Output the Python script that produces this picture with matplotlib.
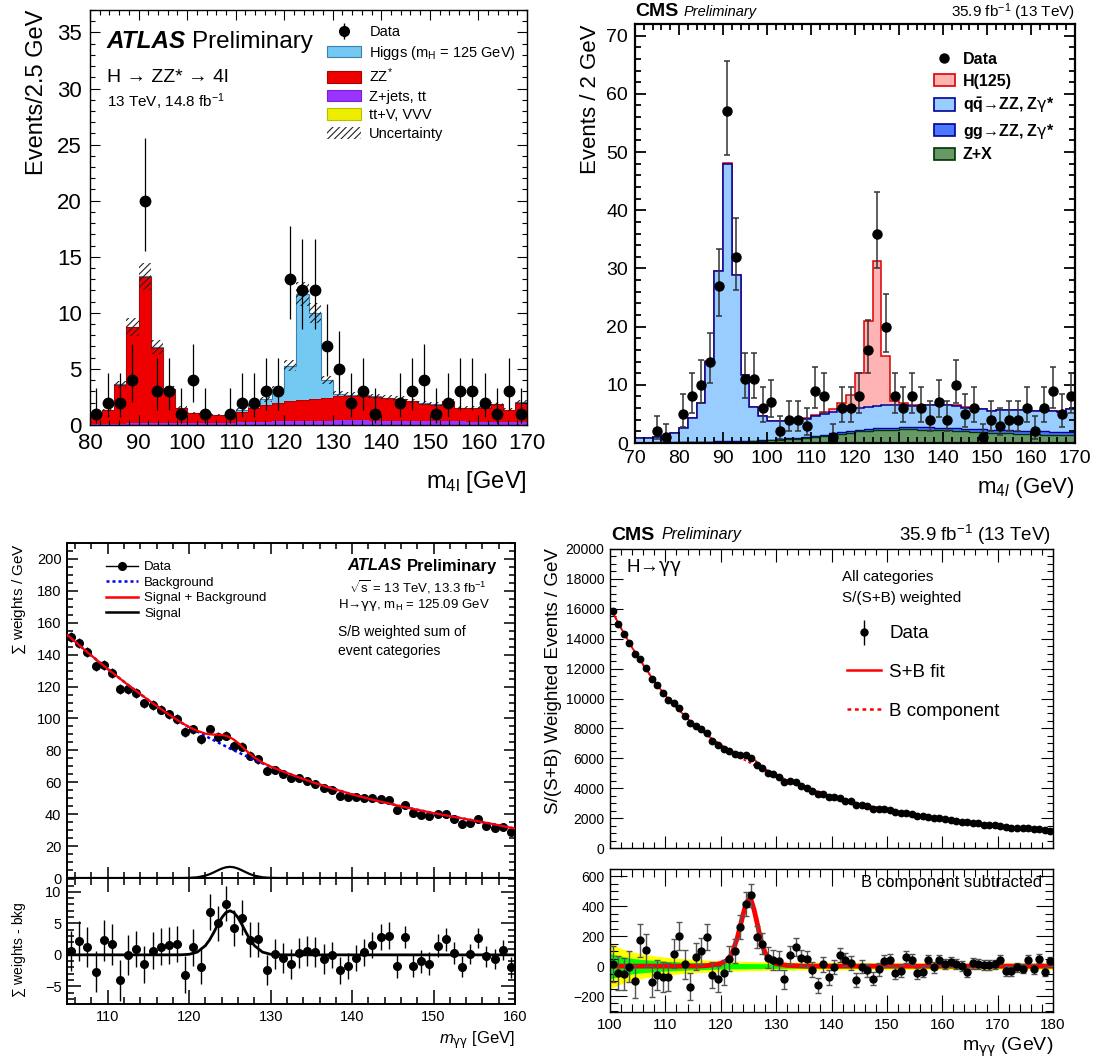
import numpy as np
import matplotlib
matplotlib.use('Agg')
import matplotlib.pyplot as plt
from matplotlib.patches import Patch
from matplotlib.lines import Line2D
from matplotlib.ticker import MultipleLocator, NullFormatter
from matplotlib.legend_handler import HandlerTuple

# ---------------- ATLAS H->ZZ*->4l (top left), 2.5 GeV bins from 80 ----------------
atlas4l_lo, atlas4l_bin = 80.0, 2.5
atlas4l_data = [1, 2, 2, 4, 20, 3, 3, 1, 4, 1, 0, 1,
                2, 2, 3, 3, 13, 12, 12, 7, 5, 2, 3, 1,
                0, 2, 3, 4, 1, 2, 3, 3, 2, 1, 3, 1]
atlas4l_ttv_top = [0.02]*12 + [0.03]*6 + [0.04]*14 + [0.03]*4
atlas4l_zjets_top = [0.12, 0.12, 0.13, 0.14, 0.15, 0.15, 0.15, 0.16, 0.17, 0.18, 0.19, 0.21,
                     0.24, 0.27, 0.30, 0.33, 0.35, 0.37, 0.39, 0.40, 0.41, 0.41, 0.41, 0.40,
                     0.39, 0.38, 0.37, 0.35, 0.34, 0.33, 0.32, 0.31, 0.30, 0.29, 0.28, 0.27]
atlas4l_zz_top = [0.9, 1.3, 3.6, 8.7, 13.2, 6.9, 3.2, 1.5, 1.05, 1.0, 0.85, 0.85,
                  1.2, 1.5, 1.8, 2.0, 2.15, 2.25, 2.35, 2.45, 2.6, 2.6, 2.6, 2.5,
                  2.4, 2.3, 2.1, 1.9, 1.8, 2.1, 1.5, 1.5, 1.55, 1.85, 1.3, 2.0]
atlas4l_total_top = [0.92, 1.33, 3.63, 8.75, 13.25, 6.95, 3.23, 1.53, 1.08, 1.03, 0.88, 0.9,
                     1.35, 1.75, 2.3, 3.2, 5.3, 11.7, 10.0, 4.0, 2.8, 2.7, 2.65, 2.55,
                     2.45, 2.35, 2.15, 1.95, 1.85, 2.15, 1.55, 1.55, 1.6, 1.9, 1.35, 2.05]
atlas4l_rel_unc = 0.09

# ---------------- CMS 4l (top right), 2 GeV bins from 70 ----------------
cms4l_lo, cms4l_bin = 70.0, 2.0
cms4l_data = [0, 0, 2, 1, 0, 5, 8, 10, 14, 27,
              57, 32, 11, 11, 6, 7, 2, 4, 4, 3,
              9, 8, 1, 6, 6, 8, 16, 36, 20, 8,
              6, 8, 6, 4, 7, 4, 10, 5, 6, 1,
              4, 3, 4, 4, 6, 2, 6, 9, 5, 8]
cms4l_zx_top = [0.05, 0.05, 0.06, 0.07, 0.08, 0.10, 0.12, 0.14, 0.16, 0.18,
                0.20, 0.22, 0.25, 0.30, 0.35, 0.45, 0.55, 0.65, 0.75, 0.85,
                1.0, 1.2, 1.4, 1.6, 1.8, 2.0, 2.1, 2.2, 2.3, 2.3,
                2.35, 2.35, 2.3, 2.3, 2.25, 2.2, 2.1, 2.0, 1.95, 1.9,
                1.8, 1.75, 1.7, 1.6, 1.55, 1.5, 1.45, 1.4, 1.35, 1.3]
cms4l_gg_top = [0.08, 0.08, 0.09, 0.10, 0.12, 0.15, 0.18, 0.21, 0.25, 0.30,
                0.34, 0.34, 0.36, 0.42, 0.48, 0.60, 0.70, 0.82, 0.93, 1.05,
                1.22, 1.43, 1.65, 1.87, 2.08, 2.30, 2.42, 2.53, 2.65, 2.66,
                2.72, 2.73, 2.70, 2.70, 2.66, 2.62, 2.53, 2.44, 2.40, 2.36,
                2.27, 2.23, 2.19, 2.10, 2.06, 2.02, 1.98, 1.94, 1.90, 1.86]
cms4l_qq_top = [0.8, 0.8, 1.0, 1.2, 1.7, 2.6, 4.3, 6.8, 14.0, 29.5,
                48.0, 28.8, 11.6, 6.2, 4.6, 3.8, 3.8, 3.8, 4.0, 4.2,
                4.6, 5.0, 5.4, 5.8, 5.9, 6.1, 6.2, 6.4, 6.5, 6.6,
                6.5, 6.4, 6.4, 6.5, 6.5, 6.5, 6.4, 6.1, 6.0, 5.8,
                5.5, 5.7, 5.6, 5.6, 5.7, 5.5, 5.6, 5.5, 5.4, 5.8]
cms4l_total_top = [0.82, 0.82, 1.02, 1.22, 1.72, 2.62, 4.33, 6.85, 14.05, 29.6,
                   48.1, 28.9, 11.65, 6.25, 4.65, 3.85, 3.85, 3.85, 4.05, 4.3,
                   4.8, 5.3, 5.8, 6.8, 8.3, 12.0, 21.0, 31.2, 14.9, 7.2,
                   6.8, 6.55, 6.5, 6.6, 6.6, 6.6, 6.45, 6.15, 6.05, 5.85,
                   5.55, 5.75, 5.65, 5.65, 5.75, 5.55, 5.65, 5.55, 5.45, 5.85]

# ---------------- ATLAS H->gamma gamma (bottom left), 1 GeV bins from 105 ----------------
atlasgg_lo = 105.0
atlasgg_data = [151, 147.5, 141.5, 132.7, 133.5, 128.5, 118.5, 118.5, 116, 109.5,
                108.5, 105.5, 102.6, 99.7, 91.5, 93.2, 87, 93.2, 88.6, 89.2,
                82.8, 82.3, 76.5, 74.4, 67.3, 67.7, 65.2, 62.5, 62.5, 61,
                58.7, 56.2, 55.4, 51.2, 50.6, 50.6, 49.9, 49.9, 49.5, 48.7,
                42.6, 46, 40.5, 39.7, 38.7, 40.1, 40.1, 37.2, 34.1, 34.7,
                36.8, 32.8, 31.6, 32.2, 28.8]
atlasgg_resid = [0.65, 2.15, 1.2, -2.65, 2.3, 1.65, -4.05, -0.05, 0.9, -1.5,
                 0.65, 1.3, 1.5, 1.75, -3.15, 1.2, -1.85, 6.8, 5.0, 8.1,
                 4.25, 5.9, 2.4, 2.45, -2.45, 0.15, -0.45, -1.45, 0.3, 0.6,
                 0.4, -0.65, -0.05, -2.45, -1.8, -0.5, 0.4, 1.55, 2.85, 3.05,
                 -1.8, 2.85, -1.7, -1.0, -1.4, 1.45, 2.45, 0.3, -1.85, 0.15,
                 2.65, -0.25, -0.7, 0.75, -2.0]
atlasgg_err = [3.2]*8 + [2.9]*8 + [2.8]*8 + [2.4]*8 + [2.1]*8 + [1.8]*8 + [1.6]*7
atlasgg_fit_x = [105, 107.5, 110, 112.5, 115, 117.5, 119, 120, 121, 122, 122.5, 123, 123.5,
                 124, 124.5, 125, 125.5, 126, 126.5, 127, 127.5, 128, 129, 130, 131, 132.5,
                 135, 137.5, 140, 142.5, 145, 147.5, 150, 152.5, 155, 157.5, 160]
atlasgg_bkg = [152.5, 141.5, 131, 121, 111.5, 102.5, 97.5, 94.5, 91.8, 89, 87.7, 86.4, 85.1,
               83.8, 82.5, 81.2, 80, 78.8, 77.6, 76.4, 75.2, 74.1, 71.9, 69.8, 67.8, 64.9,
               60.3, 56.2, 52.4, 49.1, 46.1, 43.3, 40.7, 38.3, 36, 33.6, 31]
atlasgg_sig = [0, 0, 0, 0, 0, 0, 0.01, 0.09, 0.44, 1.48, 2.37, 3.5, 4.75,
               5.9, 6.7, 7.0, 6.7, 5.9, 4.75, 3.5, 2.37, 1.48, 0.44, 0.09, 0.01, 0,
               0, 0, 0, 0, 0, 0, 0, 0, 0, 0, 0]

# ---------------- CMS H->gamma gamma (bottom right), 1 GeV bins from 100 ----------------
cmsgg_lo = 100.0
cmsgg_data = [15860, 14990, 14310, 13710, 12980, 12670, 12030, 11300, 10870, 10390,
              9920, 9680, 9390, 8840, 8370, 8190, 7930, 7710, 7180, 6870,
              6640, 6470, 6290, 6250, 6200, 6020, 5540, 5340, 5050, 4920,
              4720, 4430, 4470, 4390, 4140, 4030, 3830, 3590, 3630, 3430,
              3390, 3370, 3170, 3120, 2900, 2880, 2790, 2640, 2610, 2590,
              2550, 2390, 2350, 2370, 2300, 2170, 2130, 2100, 2020, 1990,
              1930, 1880, 1820, 1770, 1710, 1680, 1640, 1570, 1550, 1510,
              1460, 1400, 1370, 1350, 1330, 1310, 1280, 1240, 1200, 1150]
cmsgg_resid = [13, -44, -53, -4, -100, 173, 107, -104, -60, -71,
               -71, 84, 200, 11, -138, 62, 100, 196, -60, -87,
               -44, 51, 100, 262, 416, 473, 196, 151, 56, 40,
               36, -89, 76, 129, 53, 47, -24, -127, 13, -76,
               -4, 73, 44, 22, -93, -4, -27, -84, -22, 33,
               40, -49, -33, 62, 44, -49, -38, 40, -9, 40,
               13, 29, 13, 0, -38, 18, 13, 7, 7, 11,
               40, -33, -33, -9, -16, 44, -22, 49, -38, 33]
cmsgg_err = [120, 115, 110, 105, 110, 110, 105, 105, 100, 100,
             95, 95, 95, 95, 90, 90, 90, 85, 85, 85,
             85, 85, 82, 80, 80, 78, 75, 72, 70, 68,
             65, 62, 60, 58, 55, 55, 52, 50, 50, 48,
             48, 46, 46, 45, 45, 44, 43, 42, 42, 41,
             40, 40, 39, 39, 38, 38, 37, 37, 36, 36,
             35, 35, 35, 34, 34, 34, 33, 33, 33, 32,
             32, 32, 31, 31, 31, 30, 30, 30, 30, 30]
cmsgg_fit_x = [100, 102, 104, 106, 108, 110, 112, 114, 116, 118, 119, 120, 121, 122, 123, 124,
               124.5, 125, 125.5, 126, 126.5, 127, 127.5, 128, 129, 130, 132, 135, 140, 145,
               150, 155, 160, 165, 170, 175, 180]
cmsgg_bkg = [16100, 14700, 13400, 12250, 11150, 10200, 9400, 8650, 8000, 7420, 7150, 6890,
             6640, 6400, 6170, 5950, 5850, 5750, 5650, 5550, 5460, 5370, 5280, 5190, 5020,
             4860, 4520, 4090, 3460, 2950, 2570, 2230, 1950, 1710, 1490, 1320, 1160]
cmsgg_sig = [0, 0, 0, 0, 0, 0, 0, 0, 0, 5, 10, 18, 35, 80, 190, 340, 410, 445, 440, 380,
             300, 215, 140, 90, 35, 15, 5, 0, 0, 0, 0, 0, 0, 0, 0, 0, 0]
cmsgg_band_x = [100, 101, 102, 104, 106, 108, 110, 115, 120, 125, 130, 140, 150, 160, 170, 180]
cmsgg_band1 = [85, 75, 65, 52, 44, 38, 33, 25, 20, 17, 15, 13, 12, 12, 12, 12]
cmsgg_band2 = [155, 135, 118, 95, 80, 68, 60, 45, 36, 31, 28, 25, 23, 22, 22, 22]

# ---------------- style ----------------
plt.rcParams['font.family'] = ['Liberation Sans', 'DejaVu Sans']
plt.rcParams['mathtext.fontset'] = 'custom'
plt.rcParams['mathtext.rm'] = 'Liberation Sans'
plt.rcParams['mathtext.it'] = 'Liberation Sans:italic'
plt.rcParams['mathtext.bf'] = 'Liberation Sans:bold'
plt.rcParams['mathtext.sf'] = 'DejaVu Sans'
plt.rcParams['mathtext.default'] = 'regular'
plt.rcParams['hatch.linewidth'] = 0.8

W, H = 1096, 1059
fig = plt.figure(figsize=(W / 100, H / 100), dpi=100)
G = r'$\mathsf{\gamma}$'


def rect(l, t, r, b):
    return [l / W, 1 - b / H, (r - l) / W, (b - t) / H]


def T(x, y, s, **kw):
    return fig.text(x / W, 1 - y / H, s, **kw)


def style(ax, xmaj, xmin, ymaj, ymin, lab, L=7, l=3.5, lw=1.0, pad=5):
    ax.xaxis.set_major_locator(MultipleLocator(xmaj))
    ax.xaxis.set_minor_locator(MultipleLocator(xmin))
    ax.yaxis.set_major_locator(MultipleLocator(ymaj))
    ax.yaxis.set_minor_locator(MultipleLocator(ymin))
    ax.tick_params(which='both', direction='in', top=True, right=True, width=lw * 0.8,
                   labelsize=lab, pad=pad)
    ax.tick_params(which='major', length=L)
    ax.tick_params(which='minor', length=l)
    for s in ax.spines.values():
        s.set_linewidth(lw)


def poisson(n):
    n = np.asarray(n, float)
    lo = np.sqrt(np.maximum(n - 0.25, 0))
    hi = 1 + np.sqrt(n + 0.75)
    return lo, hi


renderer = fig.canvas.get_renderer()


def pair(x, y, s1, s2, kw1, kw2, gap=6):
    t1 = T(x, y, s1, **kw1)
    bb = t1.get_window_extent(renderer)
    T(x + bb.width + gap, y, s2, **kw2)

# =============== top-left: ATLAS 4l ===============
ax1 = fig.add_axes(rect(90, 10, 527, 425))
n1 = len(atlas4l_data)
e1 = atlas4l_lo + atlas4l_bin * np.arange(n1 + 1)
c1 = 0.5 * (e1[:-1] + e1[1:])
ax1.stairs(atlas4l_total_top, e1, fill=True, color='#74C9F3', lw=0)
ax1.stairs(atlas4l_total_top, e1, color='#3C7FB0', lw=0.8)
ax1.stairs(atlas4l_zz_top, e1, fill=True, color='#EE0000', lw=0)
ax1.stairs(atlas4l_zz_top, e1, color='#AA0000', lw=0.6)
ax1.stairs(atlas4l_zjets_top, e1, fill=True, color='#9933FF', lw=0)
ax1.stairs(atlas4l_ttv_top, e1, fill=True, color='#EEEE00', lw=0)
tot = np.array(atlas4l_total_top)
unc = atlas4l_rel_unc * tot
ax1.bar(c1, 2 * unc, bottom=tot - unc, width=atlas4l_bin, facecolor='none',
        edgecolor='#222222', hatch='/////', linewidth=0)
d1 = np.array(atlas4l_data, float)
m1 = d1 > 0
lo1, hi1 = poisson(d1)
ax1.errorbar(c1[m1], d1[m1], yerr=[lo1[m1], hi1[m1]], fmt='o', color='k', ms=7.5,
             elinewidth=0.9, capsize=0)
ax1.set_xlim(80, 170)
ax1.set_ylim(0, 37)
style(ax1, 10, 2, 5, 1, 16, L=7, l=3.5, lw=1.0, pad=6)
T(37, 10, 'Events/2.5 GeV', rotation=90, ha='center', va='top', fontsize=17)
T(527, 482, r'm$_{4l}$ [GeV]', ha='right', va='center', fontsize=17)
pair(107, 42, 'ATLAS', 'Preliminary', dict(fontsize=17.5, fontweight='bold', style='italic', va='center'),
     dict(fontsize=17.5, va='center'), gap=6)
T(107, 77, 'H → ZZ* → 4l', fontsize=14, va='center')
T(107, 102, r'13 TeV, 14.8 fb$^{-1}$', fontsize=11, va='center')
h_data1 = (Line2D([], [], ls='none', marker='|', ms=12, mew=1, color='k'),
           Line2D([], [], ls='none', marker='o', ms=7, color='k'))
hs1 = [h_data1,
       Patch(facecolor='#74C9F3', edgecolor='#3C7FB0', lw=0.8),
       Patch(facecolor='#EE0000', edgecolor='#AA0000', lw=0.8),
       Patch(facecolor='#9933FF', edgecolor='#7722CC', lw=0.8),
       Patch(facecolor='#EEEE00', edgecolor='#BBBB00', lw=0.8),
       Patch(facecolor='white', edgecolor='#222222', hatch='/////', lw=0)]
ls1 = ['Data', r'Higgs (m$_H$ = 125 GeV)', r'ZZ$^{*}$', 'Z+jets, tt', 'tt+V, VVV', 'Uncertainty']
ax1.legend(hs1, ls1, loc='upper left', bbox_to_anchor=(327 / W, 1 - 25 / H),
           bbox_transform=fig.transFigure, frameon=False, fontsize=10.5,
           handlelength=2.3, handleheight=0.85, labelspacing=0.32, handletextpad=0.6,
           borderpad=0, borderaxespad=0, handler_map={tuple: HandlerTuple(ndivide=1)})

# =============== top-right: CMS 4l ===============
ax2 = fig.add_axes(rect(635, 24, 1075, 443))
n2 = len(cms4l_data)
e2 = cms4l_lo + cms4l_bin * np.arange(n2 + 1)
c2 = 0.5 * (e2[:-1] + e2[1:])
ax2.stairs(cms4l_total_top, e2, fill=True, color='#FFB3B3', lw=0)
ax2.stairs(cms4l_total_top, e2, color='#DD0000', lw=1.1)
ax2.stairs(cms4l_qq_top, e2, fill=True, color='#99CCFF', lw=0)
ax2.stairs(cms4l_qq_top, e2, color='#000099', lw=1.1)
ax2.stairs(cms4l_gg_top, e2, fill=True, color='#4B78FF', lw=0)
ax2.stairs(cms4l_gg_top, e2, color='#000099', lw=1.0)
ax2.stairs(cms4l_zx_top, e2, fill=True, color='#669966', lw=0)
ax2.stairs(cms4l_zx_top, e2, color='#003300', lw=1.0)
d2 = np.array(cms4l_data, float)
m2 = d2 > 0
lo2, hi2 = poisson(d2)
ax2.errorbar(c2[m2], d2[m2], yerr=[lo2[m2], hi2[m2]], fmt='o', color='k', ms=6.5,
             ecolor='#333333', elinewidth=1.1, capsize=2.5, capthick=1.1)
ax2.set_xlim(70, 170)
ax2.set_ylim(0, 72)
style(ax2, 10, 2, 10, 2, 14, L=8, l=4, lw=1.6, pad=5)
T(591, 24, 'Events / 2 GeV', rotation=90, ha='center', va='top', fontsize=16)
T(1075, 487, r'm$_{4\mathit{l}}$ (GeV)', ha='right', va='center', fontsize=16)
pair(635, 12, 'CMS', 'Preliminary', dict(fontsize=14, fontweight='bold', va='center'),
     dict(fontsize=10.5, style='italic', va='center'), gap=5)
T(1075, 12, r'35.9 fb$^{-1}$ (13 TeV)', ha='right', va='center', fontsize=11)
hs2 = [Line2D([], [], ls='none', marker='o', ms=6.5, color='k'),
       Patch(facecolor='#FFB3B3', edgecolor='#DD0000', lw=1.2),
       Patch(facecolor='#99CCFF', edgecolor='#000099', lw=1.2),
       Patch(facecolor='#4B78FF', edgecolor='#000099', lw=1.2),
       Patch(facecolor='#669966', edgecolor='#003300', lw=1.2)]
ls2 = ['Data', 'H(125)', r'$\mathbf{q\bar{q}}$→ZZ, Z' + G + '*', 'gg→ZZ, Z' + G + '*', 'Z+X']
ax2.legend(hs2, ls2, loc='upper left', bbox_to_anchor=(934 / W, 1 - 52 / H),
           bbox_transform=fig.transFigure, frameon=False,
           prop={'weight': 'bold', 'size': 11.5},
           handlelength=1.3, handleheight=0.8, labelspacing=0.42, handletextpad=0.5,
           borderpad=0, borderaxespad=0)

# =============== bottom-left: ATLAS gamma gamma ===============
ax3 = fig.add_axes(rect(67, 543, 515, 878))
ax3r = fig.add_axes(rect(67, 878, 515, 1004))
x3 = atlasgg_lo + 0.5 + np.arange(len(atlasgg_data))
fx3 = np.array(atlasgg_fit_x)
bk3 = np.array(atlasgg_bkg)
sg3 = np.array(atlasgg_sig)
ax3.errorbar(x3, atlasgg_data, yerr=atlasgg_err, fmt='o', color='k', ms=5.5,
             elinewidth=1, capsize=0, zorder=2)
ax3.plot(fx3, bk3, color='#0000EE', ls=(0, (1.2, 1.2)), lw=1.8, zorder=3)
ax3.plot(fx3, bk3 + sg3, color='#FF0000', lw=1.6, zorder=4)
ax3.plot(fx3, sg3, color='k', lw=1.6, zorder=4)
ax3.set_xlim(105, 160)
ax3.set_ylim(0, 210)
style(ax3, 10, 2, 20, 5, 10.5, L=8, l=4, lw=1.4, pad=4)
ax3.xaxis.set_major_formatter(NullFormatter())
ax3r.errorbar(x3, atlasgg_resid, yerr=atlasgg_err, fmt='o', color='k', ms=5.5,
              elinewidth=1, capsize=0, zorder=2)
ax3r.plot(fx3, sg3, color='k', lw=2, zorder=3)
ax3r.set_xlim(105, 160)
ax3r.set_ylim(-7.8, 12.2)
style(ax3r, 10, 2, 5, 1, 10.5, L=10, l=5, lw=1.4, pad=4)
T(19, 543, r'$\sum$ weights / GeV', rotation=90, ha='center', va='top', fontsize=11)
T(19, 950, r'$\sum$ weights - bkg', rotation=90, ha='center', va='center', fontsize=10)
T(515, 1040, r'$\mathit{m}_{\mathsf{\gamma\gamma}}$ [GeV]', ha='right', va='center', fontsize=12)
hs3 = [Line2D([], [], color='k', marker='o', ms=5.5, lw=1),
       Line2D([], [], color='#0000EE', ls=(0, (1.2, 1.2)), lw=1.8),
       Line2D([], [], color='#FF0000', lw=1.8),
       Line2D([], [], color='k', lw=1.8)]
ls3 = ['Data', 'Background', 'Signal + Background', 'Signal']
ax3.legend(hs3, ls3, loc='upper left', bbox_to_anchor=(106 / W, 1 - 561 / H),
           bbox_transform=fig.transFigure, frameon=False, fontsize=9.5,
           handlelength=2.4, labelspacing=0.25, handletextpad=0.5,
           borderpad=0, borderaxespad=0)
t_atl = T(497, 566, 'Preliminary', ha='right', va='center', fontsize=12, fontweight='bold')
bb = t_atl.get_window_extent(renderer)
T(497 - bb.width - 5, 566, 'ATLAS', ha='right', va='center', fontsize=12, fontweight='bold',
  style='italic')
T(487, 587, r'$\sqrt{s}$ = 13 TeV, 13.3 fb$^{-1}$', ha='right', va='center', fontsize=9.5)
T(490, 605, r'H→$\mathsf{\gamma\gamma}$, m$_H$ = 125.09 GeV', ha='right', va='center', fontsize=9.5)
T(338, 632, 'S/B weighted sum of', ha='left', va='center', fontsize=10)
T(338, 651, 'event categories', ha='left', va='center', fontsize=10)

# =============== bottom-right: CMS gamma gamma ===============
ax4 = fig.add_axes(rect(610, 549, 1053, 848))
ax4r = fig.add_axes(rect(610, 869, 1053, 1012))
x4 = cmsgg_lo + 0.5 + np.arange(len(cmsgg_data))
fx4 = np.array(cmsgg_fit_x)
bk4 = np.array(cmsgg_bkg)
sg4 = np.array(cmsgg_sig)
ax4.plot(fx4, bk4 + sg4, color='#FF0000', lw=1.3, zorder=2)
ax4.plot(fx4, bk4, color='#FF0000', ls=(0, (1.5, 1.5)), lw=1.3, zorder=2)
ax4.errorbar(x4, cmsgg_data, yerr=cmsgg_err, fmt='o', color='k', ms=4.6,
             ecolor='#555555', elinewidth=1, capsize=1.5, zorder=3)
ax4.set_xlim(100, 180)
ax4.set_ylim(0, 20000)
style(ax4, 10, 2, 2000, 500, 10, L=9, l=4.5, lw=1.0, pad=4)
ax4.xaxis.set_major_formatter(NullFormatter())
bx = np.array(cmsgg_band_x)
b1 = np.array(cmsgg_band1)
b2 = np.array(cmsgg_band2)
ax4r.fill_between(bx, -b2, b2, color='#FFFF00', lw=0, zorder=1)
ax4r.fill_between(bx, -b1, b1, color='#00FF00', lw=0, zorder=1)
ax4r.plot(fx4, sg4, color='#FF0000', lw=3.5, zorder=2)
ax4r.errorbar(x4, cmsgg_resid, yerr=cmsgg_err, fmt='o', color='k', ms=5,
              ecolor='#555555', elinewidth=1, capsize=2, zorder=3)
ax4r.set_xlim(100, 180)
ax4r.set_ylim(-307, 650)
style(ax4r, 10, 2, 200, 50, 10, L=12, l=6, lw=1.0, pad=4)
ax4r.tick_params(axis='x', labelsize=11)
T(553, 548, 'S/(S+B) Weighted Events / GeV', rotation=90, ha='center', va='top', fontsize=13.5)
T(1053, 1047, r'm$_{\mathsf{\gamma\gamma}}$ (GeV)', ha='right', va='center', fontsize=14)
pair(611, 535, 'CMS', 'Preliminary', dict(fontsize=14, fontweight='bold', va='center'),
     dict(fontsize=11.5, style='italic', va='center'), gap=7)
T(1051, 535, r'35.9 fb$^{-1}$ (13 TeV)', ha='right', va='center', fontsize=13.5)
T(626, 567, r'H→$\mathsf{\gamma\gamma}$', ha='left', va='center', fontsize=13.5)
T(842, 577, 'All categories', ha='left', va='center', fontsize=11)
T(842, 598, 'S/(S+B) weighted', ha='left', va='center', fontsize=11)
T(1042, 882, 'B component subtracted', ha='right', va='center', fontsize=12)
h_data4 = (Line2D([], [], ls='none', marker='|', ms=18, mew=1, color='k'),
           Line2D([], [], ls='none', marker='o', ms=5, color='k'))
hs4 = [h_data4,
       Line2D([], [], color='#FF0000', lw=1.8),
       Line2D([], [], color='#FF0000', ls=(0, (1.5, 1.5)), lw=1.8)]
ls4 = ['Data', 'S+B fit', 'B component']
ax4.legend(hs4, ls4, loc='upper left', bbox_to_anchor=(847 / W, 1 - 625 / H),
           bbox_transform=fig.transFigure, frameon=False, fontsize=13.5,
           handlelength=1.8, labelspacing=1.15, handletextpad=0.45,
           borderpad=0, borderaxespad=0, handler_map={tuple: HandlerTuple(ndivide=1)})

fig.savefig('out.png', dpi=100)
